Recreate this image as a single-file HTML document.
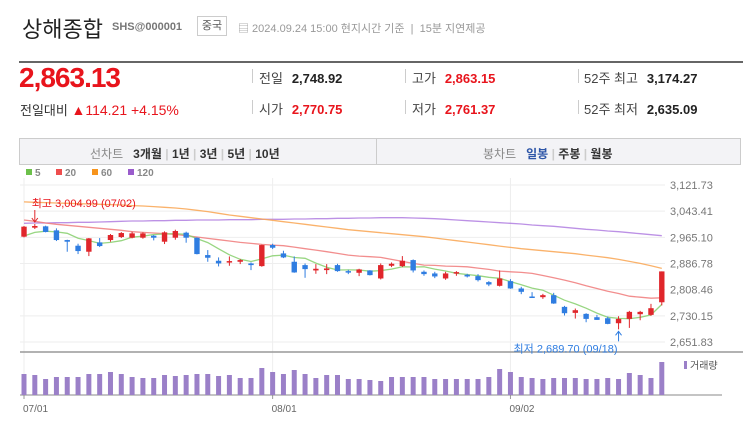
<!DOCTYPE html>
<html><head><meta charset="utf-8">
<style>
body{margin:0;background:#fff;width:743px;height:422px;overflow:hidden;font-family:"Liberation Sans","Noto Sans CJK KR",sans-serif;position:relative}
.a{position:absolute;white-space:nowrap}
.lab{color:#444;font-size:13px}
.val{font-size:13px;font-weight:bold;color:#222}
.red,.val.red{color:#e8141c}
.sep{position:absolute;width:1px;height:14px;background:#ccc}
.tab{font-size:12px;color:#333;font-weight:bold}
</style></head><body>
<div class="a" style="left:22px;top:12px;font-size:22px;color:#222">상해종합</div>
<div class="a" style="left:112px;top:21px;font-size:11px;color:#777;font-weight:bold">SHS@000001</div>
<div class="a" style="left:197px;top:16px;width:28px;height:18px;border:1px solid #ccc;font-size:11px;color:#555;text-align:center;line-height:18px">중국</div>
<div class="a" style="left:238px;top:20px;font-size:11px;color:#999">▤ 2024.09.24 15:00 현지시간 기준 &nbsp;|&nbsp; 15분 지연제공</div>
<div class="a" style="left:19px;top:61px;width:724px;height:2px;background:#666"></div>

<div class="a red" style="left:19px;top:62px;font-size:28px;font-weight:bold;letter-spacing:-1px">2,863.13</div>
<div class="a" style="left:20px;top:100px;font-size:13px"><span style="color:#333">전일대비</span> <span class="red" style="font-size:14px">▲114.21 +4.15%</span></div>

<div class="sep" style="left:252px;top:69px"></div><div class="sep" style="left:252px;top:100px"></div>
<div class="sep" style="left:405px;top:69px"></div><div class="sep" style="left:405px;top:100px"></div>
<div class="sep" style="left:578px;top:69px"></div><div class="sep" style="left:578px;top:100px"></div>
<div class="a" style="left:259px;top:68px"><span class="lab">전일</span> &nbsp;<span class="val">2,748.92</span></div>
<div class="a" style="left:259px;top:99px"><span class="lab">시가</span> &nbsp;<span class="val red">2,770.75</span></div>
<div class="a" style="left:412px;top:68px"><span class="lab">고가</span> &nbsp;<span class="val red">2,863.15</span></div>
<div class="a" style="left:412px;top:99px"><span class="lab">저가</span> &nbsp;<span class="val red">2,761.37</span></div>
<div class="a" style="left:584px;top:68px"><span class="lab">52주 최고</span> &nbsp;<span class="val">3,174.27</span></div>
<div class="a" style="left:584px;top:99px"><span class="lab">52주 최저</span> &nbsp;<span class="val">2,635.09</span></div>

<div class="a" style="left:19px;top:138px;width:722px;height:27px;background:#f3f3f6;border:1px solid #ccc;box-sizing:border-box"></div>
<div class="a" style="left:376px;top:138px;width:1px;height:27px;background:#ccc"></div>
<div class="a tab" style="left:90px;top:145px"><span style="color:#888;font-weight:normal">선차트</span> &nbsp;&nbsp;<span>3개월</span> <span style="color:#ccc">|</span> <span>1년</span> <span style="color:#ccc">|</span> <span>3년</span> <span style="color:#ccc">|</span> <span>5년</span> <span style="color:#ccc">|</span> <span>10년</span></div>
<div class="a tab" style="left:483px;top:145px"><span style="color:#888;font-weight:normal">봉차트</span> &nbsp;&nbsp;<span style="color:#2e56a8">일봉</span> <span style="color:#ccc">|</span> <span>주봉</span> <span style="color:#ccc">|</span> <span>월봉</span></div>

<svg id="chart" class="a" style="left:0;top:0" width="743" height="422" font-family="Liberation Sans, Noto Sans CJK KR, sans-serif"></svg>
<script>
const dates=['07/01','08/01','09/02'];
const dateIdx=[0,23,45];
const opens=[2967,2994,2998,2986,2957,2940,2922,2950,2957,2966,2964,2964,2970,2952,2964,2979,2964,2912,2895,2890,2892,2887,2879,2942,2917,2892,2882,2866,2867,2882,2864,2859,2866,2842,2880,2879,2897,2862,2857,2842,2858,2853,2849,2831,2820,2834,2812,2788,2786,2792,2757,2739,2736,2726,2723,2708,2721,2735,2733,2770.75];
const closes=[2997,2999,2981,2957,2952,2924,2962,2939,2972,2978,2977,2977,2964,2980,2984,2964,2915,2904,2887,2894,2897,2882,2942,2934,2905,2860,2870,2871,2872,2864,2861,2869,2852,2882,2886,2895,2866,2855,2848,2857,2861,2848,2837,2824,2842,2812,2802,2786,2792,2767,2738,2747,2721,2718,2706,2721,2742,2742,2753,2863.13];
const highs=[2999,3004.99,3000,2992,2958,2946,2963,2963,2975,2981,2982,2980,2972,2983,2988,2982,2965,2927,2905,2908,2900,2890,2943,2946,2925,2908,2887,2885,2885,2886,2868,2871,2867,2887,2890,2909,2899,2866,2862,2862,2864,2856,2855,2834,2866,2840,2817,2801,2796,2799,2760,2752,2738,2733,2728,2729,2745,2745,2766,2863.15];
const lows=[2965,2990,2980,2954,2922,2915,2909,2936,2952,2963,2962,2961,2956,2945,2958,2949,2914,2892,2878,2880,2885,2867,2877,2930,2903,2859,2844,2856,2855,2862,2855,2849,2851,2839,2876,2876,2860,2850,2843,2838,2850,2845,2833,2819,2818,2811,2795,2786,2781,2766,2731,2722,2711,2718,2705,2689.70,2694,2717,2730,2761.37];
const priorCloses=[2946,2963,2967,2973];
const ma20=[3017,3013,3008,3004,3001,2998,2995,2992,2989,2986,2982,2980,2978,2976,2974,2970,2966,2962,2958,2954,2950,2947,2944,2942,2940,2936,2931,2927,2922,2917,2912,2909,2907,2905,2899,2893,2887,2882,2881,2879,2878,2877,2873,2869,2864,2862,2860,2857,2851,2844,2837,2829,2820,2812,2804,2797,2789,2786,2783,2784];
const ma60=[3071,3070,3069,3068,3067,3066,3065,3064,3063,3062,3060,3059,3057,3055,3053,3050,3046,3042,3037,3032,3028,3024,3020,3016,3012,3008,3004,3000,2996,2992,2988,2985,2982,2979,2976,2973,2970,2967,2963,2959,2955,2951,2947,2943,2939,2935,2931,2928,2925,2922,2919,2916,2912,2908,2904,2899,2893,2887,2880,2872];
const ma120=[3007,3008,3008,3009,3009,3010,3010,3011,3012,3013,3014,3014,3015,3015,3016,3016,3017,3017,3017,3018,3018,3018,3019,3019,3019,3020,3020,3021,3021,3022,3022,3023,3023,3024,3024,3024,3023,3022,3021,3019,3017,3015,3013,3011,3009,3007,3005,3002,3000,2998,2995,2992,2989,2987,2984,2982,2979,2976,2973,2970];
const volumes=[210,200,160,180,180,180,210,210,230,210,180,170,170,200,190,200,210,210,190,200,170,170,270,230,210,250,210,170,200,200,160,160,150,140,180,180,180,180,160,160,160,160,160,180,260,230,180,170,160,170,170,170,160,160,170,160,220,200,170,330];
const yTicks=[3121.73,3043.41,2965.10,2886.78,2808.46,2730.15,2651.83];
const yTickLabels=['3,121.73','3,043.41','2,965.10','2,886.78','2,808.46','2,730.15','2,651.83'];

const NS='http://www.w3.org/2000/svg',svg=document.getElementById('chart');
const X0=24,DX=10.81,YT=185,YB=342,VMAX=3121.73,VMIN=2651.83,VB=395;
const xs=i=>X0+DX*i;
const ys=v=>YB-(v-VMIN)/(VMAX-VMIN)*(YB-YT);
const vs=v=>v*0.1;
function mk(t,a,p){const e=document.createElementNS(NS,t);for(const k in a)e.setAttribute(k,a[k]);(p||svg).appendChild(e);return e;}

const lg=[['5','#6cc04a'],['20','#ee4d4d'],['60','#f7941d'],['120','#9a5ccc']];
let lx=26;
lg.forEach(l=>{const g=mk('g',{});


mk('rect',{x:lx,y:169,width:6,height:6,fill:l[1]},g);
const t=mk('text',{x:lx+9,y:176,'font-size':10,fill:'#888','font-weight':'bold'},g);t.textContent=l[0];lx+=l[0].length*6+24;});

yTicks.forEach((v,i)=>{const ln=mk('line',{x1:20,x2:665,y1:ys(v),y2:ys(v),stroke:'#eee'});


const t=mk('text',{x:670,y:ys(v)+4,'font-size':11,fill:'#777'});t.textContent=yTickLabels[i];

});
dateIdx.forEach((d,k)=>{mk('line',{x1:xs(d),x2:xs(d),y1:178,y2:352,stroke:'#eee'});mk('line',{x1:xs(d),x2:xs(d),y1:350,y2:395,stroke:'#eee'});
mk('line',{x1:xs(d),x2:xs(d),y1:395,y2:399,stroke:'#999'});
const t=mk('text',{x:xs(d)-1,y:412,'font-size':10,fill:'#666'});t.textContent=dates[k];

});
mk('line',{x1:20,x2:743,y1:352,y2:352,stroke:'#999','stroke-width':1.5});
mk('line',{x1:20,x2:722,y1:395,y2:395,stroke:'#888','stroke-width':1});

function line(arr,col,name){const d=arr.map((v,i)=>(i?'L':'M')+xs(i).toFixed(1)+','+ys(v).toFixed(1)).join('');
const p=mk('path',{d:d,fill:'none',stroke:col,'stroke-width':1.3,opacity:0.85});

}
const allC=priorCloses.concat(closes);
const ma5=closes.map((c,i)=>{let s=0;for(let k=i;k<i+5;k++)s+=allC[k];return s/5;});
line(ma120,'#b07ee0','ma120-line');line(ma60,'#f9a451','ma60-line');line(ma20,'#f07a7a','ma20-line');line(ma5,'#86cf6c','ma5-line');

closes.forEach((c,i)=>{const o=opens[i],up=c>=o,col=up?'#e0262b':'#2f7de1',x=xs(i);
const g=mk('g',{});


mk('line',{x1:x,x2:x,y1:ys(highs[i]),y2:ys(lows[i]),stroke:col,'stroke-width':1},g);
const top=ys(Math.max(o,c)),h=Math.max(1.5,ys(Math.min(o,c))-top);
mk('rect',{x:x-2.7,y:top,width:5.4,height:h,fill:col},g);
const vb=mk('rect',{x:x-2.5,y:VB-vs(volumes[i]),width:5,height:vs(volumes[i]),fill:'#9b80c8'});

});

let hi=0,lo=0;highs.forEach((v,i)=>{if(v>highs[hi])hi=i;});lows.forEach((v,i)=>{if(v<lows[lo])lo=i;});
const hx=xs(hi),hy=ys(highs[hi]);
mk('line',{x1:hx,x2:hx,y1:hy-14,y2:hy-2,stroke:'#e0262b'});mk('path',{d:`M${hx-3},${hy-6}L${hx},${hy-2}L${hx+3},${hy-6}`,fill:'none',stroke:'#e0262b'});
const ht=mk('text',{x:hx-3,y:hy-17,'font-size':11,fill:'#e8141c'});ht.textContent='최고 3,004.99 (07/02)';


const lxp=xs(lo),ly=ys(lows[lo]);
mk('line',{x1:lxp,x2:lxp,y1:ly+2,y2:ly+12,stroke:'#2f7de1'});mk('path',{d:`M${lxp-3},${ly+6}L${lxp},${ly+2}L${lxp+3},${ly+6}`,fill:'none',stroke:'#2f7de1'});
const lt=mk('text',{x:lxp-105,y:ly+23,'font-size':11,fill:'#2f7de1'});lt.textContent='최저 2,689.70 (09/18)';


mk('rect',{x:684,y:361,width:3,height:8,fill:'#9b80c8'});
const vt=mk('text',{x:690,y:369,'font-size':10,fill:'#555'});vt.textContent='거래량';


</script>
</body></html>
